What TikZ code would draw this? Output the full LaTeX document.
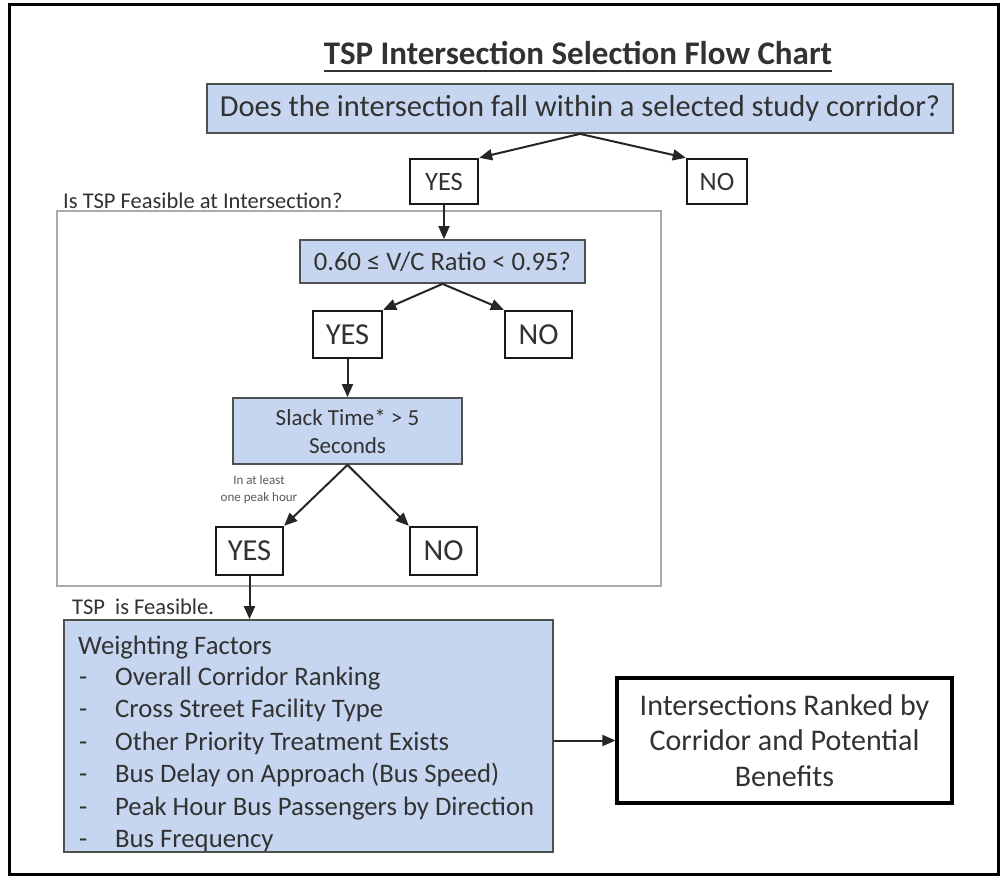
\documentclass[tikz,border=0pt]{standalone}
\usepackage{fontspec}
\setmainfont{Carlito}
\usetikzlibrary{arrows.meta}
\definecolor{boxblue}{RGB}{198,214,240}
\definecolor{txt}{RGB}{50,50,50}
\definecolor{framegray}{RGB}{170,170,170}
\definecolor{bordergray}{RGB}{80,80,80}
\begin{document}
\begin{tikzpicture}[x=1pt,y=-1pt,
  bluebox/.style={draw=bordergray, line width=1.8pt, fill=boxblue, text=txt, inner sep=0pt},
  ansbox/.style={draw=black!90, line width=2.4pt, fill=white, text=txt, inner sep=0pt, font=\fontsize{30.5}{36}\selectfont},
  conn/.style={draw=black!85, line width=2pt, -{Triangle[length=13pt,width=11pt]}},
  lbl/.style={text=txt, inner sep=0pt},
  wline/.style={text=txt, inner sep=0pt, anchor=base west, font=\fontsize{26.7}{32}\selectfont}
]
\useasboundingbox (0,0) rectangle (1002,877);
\fill[white] (0,0) rectangle (1002,877);
% outer frame
\draw[line width=3pt, black] (9,5) rectangle (998,874);
% title
\node[lbl, anchor=base, font=\fontsize{33}{38}\selectfont\bfseries] (title) at (578,65) {TSP Intersection Selection Flow Chart};
\draw[line width=1.8pt, txt] ([yshift=-6pt]title.base west) -- ([yshift=-6pt]title.base east);
% feasibility frame
\draw[framegray, line width=1.5pt] (57,211) rectangle (661,586);
\node[lbl, anchor=base west, font=\fontsize{22.5}{27}\selectfont] (feaslbl) at (63,209) {Is TSP Feasible at Intersection?};
% boxes
\node[bluebox, minimum width=746pt, minimum height=49pt, font=\fontsize{30.5}{36}\selectfont] (q1) at (580,108.5) {Does the intersection fall within a selected study corridor?};
\node[ansbox, minimum width=68pt, minimum height=45pt, font=\fontsize{26.5}{31}\selectfont] (yes1) at (444,181.5) {YES};
\node[ansbox, minimum width=60pt, minimum height=45pt, font=\fontsize{26.5}{31}\selectfont] (no1) at (717,181.5) {NO};
\node[bluebox, minimum width=285pt, minimum height=43pt, font=\fontsize{26.6}{31}\selectfont] (vc) at (442.5,261.5) {0.60 ≤ V/C Ratio < 0.95?};
\node[ansbox, minimum width=69pt, minimum height=47pt] (yes2) at (347.5,334.5) {YES};
\node[ansbox, minimum width=67pt, minimum height=47pt] (no2) at (538.5,334.5) {NO};
\node[bluebox, minimum width=229pt, minimum height=66pt, align=center, font=\fontsize{23}{28}\selectfont] (slack) at (347.5,431) {Slack Time* > 5\\Seconds};
\node[ansbox, minimum width=67pt, minimum height=48pt] (yes3) at (249.5,551) {YES};
\node[ansbox, minimum width=67pt, minimum height=48pt] (no3) at (443.5,551) {NO};
\node[lbl, align=center, text=black!65, font=\fontsize{13}{17}\selectfont] (peak) at (259,490) {In at least\\one peak hour};
\node[lbl, anchor=base west, font=\fontsize{22.5}{27}\selectfont] (feasible) at (72,614) {TSP\ \ is Feasible.};
\node[bluebox, minimum width=489pt, minimum height=232pt] (wf) at (308.5,736) {};
\node[wline] (w0) at (78,654) {Weighting Factors};
\foreach \t [count=\i] in {Overall Corridor Ranking, Cross Street Facility Type, Other Priority Treatment Exists, Bus Delay on Approach (Bus Speed), Peak Hour Bus Passengers by Direction, Bus Frequency}{
  \node[wline] (wd\i) at (79,{653+32.4*\i}) {-};
  \node[wline] (wt\i) at (115,{653+32.4*\i}) {\t};
}
\node[draw=black, line width=3.2pt, fill=white, text=txt, inner sep=0pt, minimum width=335pt, minimum height=125pt, align=center, font=\fontsize{30}{35.5}\selectfont] (rank) at (784.5,740.5) {Intersections Ranked by\\Corridor and Potential\\Benefits};
% connectors
\draw[conn] (q1.south) -- (yes1.north east);
\draw[conn] (q1.south) -- (no1.north west);
\draw[conn] (yes1.south) -- (yes1.south |- vc.north);
\draw[conn] (vc.south) -- (yes2.north east);
\draw[conn] (vc.south) -- (no2.north west);
\draw[conn] (yes2.south) -- (slack.north);
\draw[conn] (slack.south) -- (yes3.north east);
\draw[conn] (slack.south) -- (no3.north west);
\draw[conn] (yes3.south) -- (yes3.south |- wf.north);
\draw[conn] (wf.east |- rank.west) -- (rank.west);
\end{tikzpicture}
\end{document}
